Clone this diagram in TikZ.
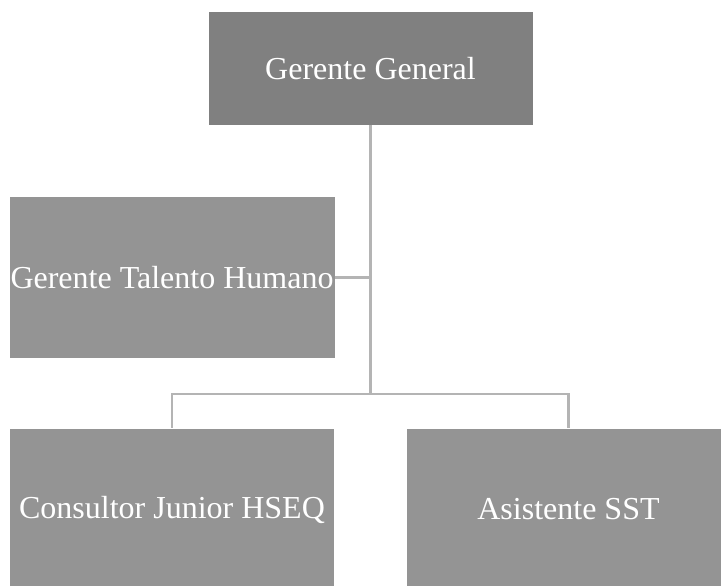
\documentclass[tikz,border=0pt]{standalone}
\usepackage{fontspec}
\setmainfont{Liberation Serif}
\definecolor{topgray}{HTML}{808080}
\definecolor{boxgray}{HTML}{949494}
\definecolor{linegray}{HTML}{B4B4B4}
\tikzset{
  cargo/.style={fill=boxgray, text=white, inner sep=0pt, font=\fontsize{32}{36}\selectfont},
  enlace/.style={draw=linegray, line width=2.2pt}
}
\begin{document}
\begin{tikzpicture}[x=1pt,y=-1pt]
\useasboundingbox (0,0) rectangle (721,586);
\node[cargo, fill=topgray, minimum width=324pt, minimum height=113pt] (gg) at (370.5,68.5) {Gerente General};
\node[cargo, minimum width=325pt, minimum height=161pt] (gth) at (172,277.5) {Gerente Talento Humano};
\node[cargo, minimum width=324pt, minimum height=161pt] (cj) at (172,509.5) {Consultor Junior HSEQ};
\node[cargo, minimum width=324pt, minimum height=161pt] (as) at (568.5,509.5) {Asistente SST};
\coordinate (jn) at (370.5,394);
\draw[enlace] (gg.south) -- (jn);
\draw[enlace] (gth.east) -- (gth.east -| jn);
\draw[enlace] (jn) -| ([yshift=1pt]cj.north);
\draw[enlace] (jn) -| ([yshift=1pt]as.north);
\end{tikzpicture}
\end{document}
